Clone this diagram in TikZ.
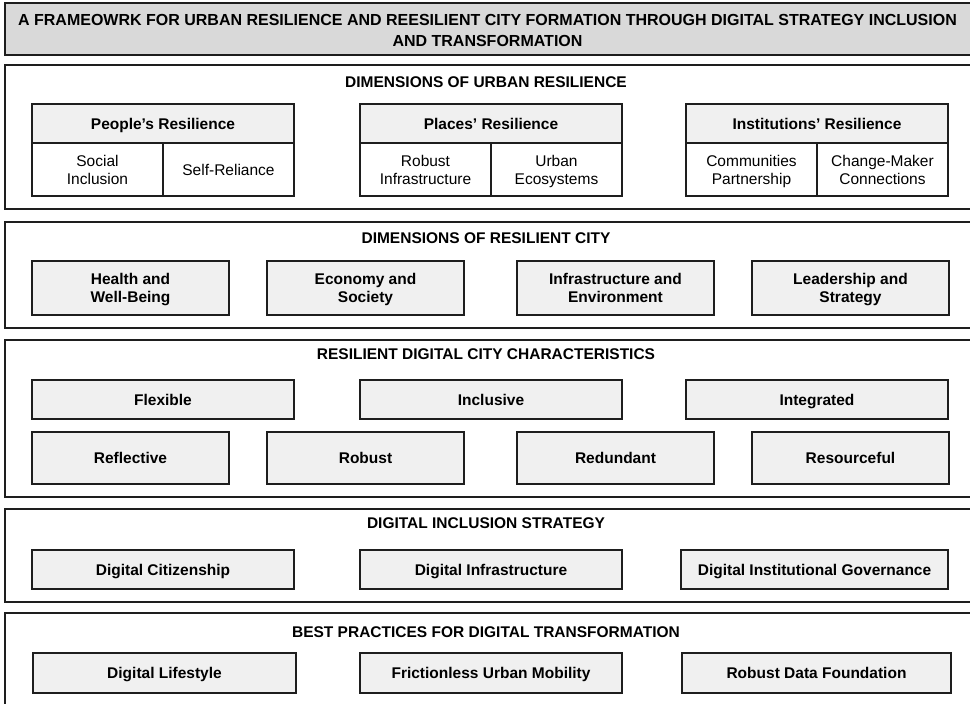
\documentclass[tikz,border=0pt]{standalone}
\usepackage{fontspec}
\setmainfont{Liberation Sans}
\definecolor{edge}{HTML}{1E1E1E}
\definecolor{titlefill}{HTML}{D9D9D9}
\definecolor{cardfill}{HTML}{F0F0F0}
% two centred lines, measured from the first baseline
\newcommand\twoline[2]{\vtop{\halign{\hfil##\hfil\cr #1\cr #2\cr}}}
\begin{document}
\begin{tikzpicture}[x=1pt,y=-1pt,
  base/.style={rectangle, draw=edge, line width=1.8pt, inner sep=0pt,
    font=\fontsize{15.5}{18}\selectfont, text=black},
  one/.style={text height=11.1pt, text depth=0pt},
  two/.style={text height=11.1pt, text depth=18pt},
  titlebox/.style={base, fill=titlefill},
  section/.style={base, fill=white},
  heading/.style={font=\fontsize{15.5}{18}\selectfont\bfseries, inner sep=0pt, one},
  card/.style={base, fill=cardfill, font=\fontsize{15.5}{18}\selectfont\bfseries},
  cell/.style={base, fill=white},
  wide/.style={minimum width=262pt},
  narrow/.style={minimum width=197pt}
]
\useasboundingbox (0,0) rectangle (970,704);
\clip (0,0) rectangle (970,704);
\fill[white] (0,0) rectangle (970,704);

% title banner
\node[titlebox, minimum width=966pt, minimum height=52pt] (title) at (488,29) {};
\node[heading, font=\fontsize{16}{21}\selectfont\bfseries, text height=11.5pt, text depth=21pt] (titletext) at (487.5,30.5)
  {\twoline{A FRAMEOWRK FOR URBAN RESILIENCE AND REESILIENT CITY FORMATION THROUGH DIGITAL STRATEGY INCLUSION}{AND TRANSFORMATION}};

% section frames
\node[section, minimum width=966pt, minimum height=144pt] (sec1) at (488,137) {};
\node[section, minimum width=966pt, minimum height=106pt] (sec2) at (488,275) {};
\node[section, minimum width=966pt, minimum height=157pt] (sec3) at (488,418.5) {};
\node[section, minimum width=966pt, minimum height=93pt] (sec4) at (488,555.5) {};
\node[section, minimum width=966pt, minimum height=107pt] (sec5) at (488,666.5) {};

% section headings
\node[heading] (h1) at (486,82) {DIMENSIONS OF URBAN RESILIENCE};
\node[heading] (h2) at (486,238) {DIMENSIONS OF RESILIENT CITY};
\node[heading] (h3) at (486,354) {RESILIENT DIGITAL CITY CHARACTERISTICS};
\node[heading] (h4) at (486,523) {DIGITAL INCLUSION STRATEGY};
\node[heading] (h5) at (486,632) {BEST PRACTICES FOR DIGITAL TRANSFORMATION};

% dimensions of urban resilience
\node[card, one, wide, minimum height=39pt] (people) at (163,123.5) {People’s Resilience};
\node[cell, two, minimum width=131pt, minimum height=53pt] (social) at (97.5,169.5) {\twoline{Social}{Inclusion}};
\node[cell, one, minimum width=131pt, minimum height=53pt] (selfrel) at (228.5,169.5) {Self-Reliance};

\node[card, one, wide, minimum height=39pt] (places) at (491,123.5) {Places’ Resilience};
\node[cell, two, minimum width=131pt, minimum height=53pt] (robinfra) at (425.5,169.5) {\twoline{Robust}{Infrastructure}};
\node[cell, two, minimum width=131pt, minimum height=53pt] (ecosys) at (556.5,169.5) {\twoline{Urban}{Ecosystems}};

\node[card, one, wide, minimum height=39pt] (inst) at (817,123.5) {Institutions’ Resilience};
\node[cell, two, minimum width=131pt, minimum height=53pt] (partner) at (751.5,169.5) {\twoline{Communities}{Partnership}};
\node[cell, two, minimum width=131pt, minimum height=53pt] (change) at (882.5,169.5) {\twoline{Change-Maker}{Connections}};

% dimensions of resilient city
\node[card, two, narrow, minimum height=54pt] (health) at (130.5,288) {\twoline{Health and}{Well-Being}};
\node[card, two, narrow, minimum height=54pt] (economy) at (365.5,288) {\twoline{Economy and}{Society}};
\node[card, two, narrow, minimum height=54pt] (infraenv) at (615.5,288) {\twoline{Infrastructure and}{Environment}};
\node[card, two, narrow, minimum height=54pt] (leader) at (850.5,288) {\twoline{Leadership and}{Strategy}};

% resilient digital city characteristics
\node[card, one, wide, minimum height=39pt] (flexible) at (163,399.5) {Flexible};
\node[card, one, wide, minimum height=39pt] (inclusive) at (491,399.5) {Inclusive};
\node[card, one, wide, minimum height=39pt] (integrated) at (817,399.5) {Integrated};
\node[card, one, narrow, minimum height=52pt] (reflective) at (130.5,458) {Reflective};
\node[card, one, narrow, minimum height=52pt] (robust) at (365.5,458) {Robust};
\node[card, one, narrow, minimum height=52pt] (redundant) at (615.5,458) {Redundant};
\node[card, one, narrow, minimum height=52pt] (resourceful) at (850.5,458) {Resourceful};

% digital inclusion strategy
\node[card, one, wide, minimum height=39pt] (citizen) at (163,569.5) {Digital Citizenship};
\node[card, one, wide, minimum height=39pt] (diginfra) at (491,569.5) {Digital Infrastructure};
\node[card, one, minimum width=267pt, minimum height=39pt] (govern) at (814.5,569.5) {Digital Institutional Governance};

% best practices for digital transformation
\node[card, one, minimum width=263pt, minimum height=40pt] (lifestyle) at (164.5,673) {Digital Lifestyle};
\node[card, one, wide, minimum height=40pt] (mobility) at (491,673) {Frictionless Urban Mobility};
\node[card, one, minimum width=269pt, minimum height=40pt] (datafound) at (816.5,673) {Robust Data Foundation};
\end{tikzpicture}
\end{document}
